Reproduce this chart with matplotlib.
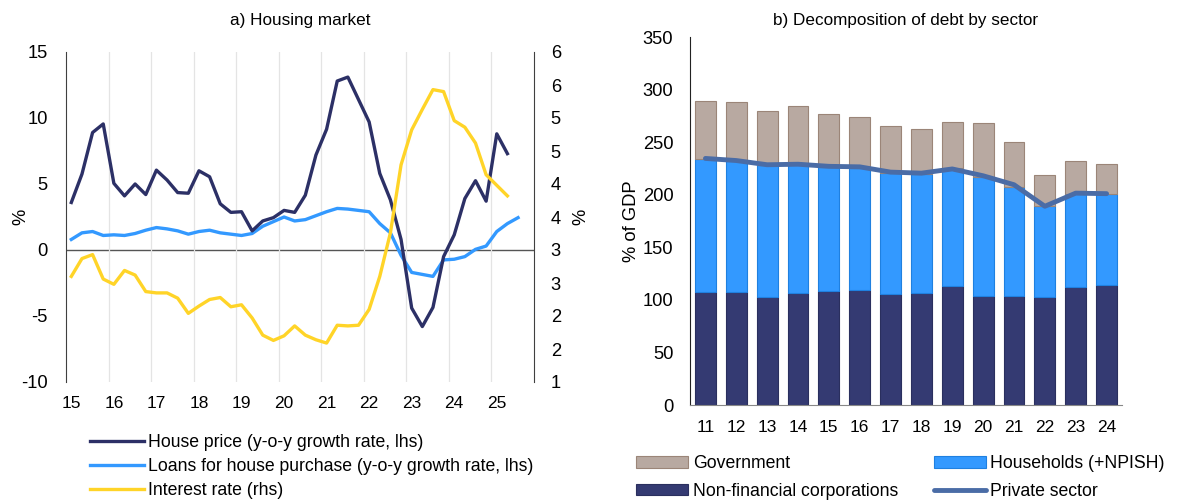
import matplotlib
matplotlib.use("Agg")
import matplotlib.pyplot as plt
import numpy as np
import pandas as pd

plt.rcParams['font.family'] = ['Liberation Sans', 'DejaVu Sans']
plt.rcParams['axes.unicode_minus'] = False

##############################
# a) Housing market data     #
##############################

# quarterly, starting 2015Q1
house_price = [3.6, 5.75, 8.9, 9.55, 5.05, 4.1, 5.0, 4.2, 6.05, 5.3,
               4.35, 4.3, 6.0, 5.55, 3.5, 2.85, 2.9, 1.45, 2.2, 2.45,
               3.0, 2.85, 4.15, 7.2, 9.15, 12.8, 13.1, 11.4, 9.7, 5.8,
               3.8, 0.8, -4.4, -5.8, -4.35, -0.5, 1.15, 3.9, 5.25, 3.7,
               8.8, 7.3]
loans = [0.8, 1.3, 1.4, 1.1, 1.15, 1.1, 1.25, 1.5, 1.7, 1.6,
         1.45, 1.2, 1.4, 1.5, 1.3, 1.2, 1.1, 1.25, 1.8, 2.15,
         2.5, 2.2, 2.3, 2.6, 2.9, 3.15, 3.1, 3.0, 2.9, 2.0,
         1.3, -0.4, -1.7, -1.85, -2.0, -0.75, -0.7, -0.5, 0.05, 0.3,
         1.4, 2.0, 2.45]
interest_rate = [2.6, 2.87, 2.93, 2.56, 2.48, 2.69, 2.62, 2.37, 2.35, 2.35,
                 2.27, 2.04, 2.15, 2.25, 2.28, 2.14, 2.17, 1.97, 1.71, 1.63,
                 1.7, 1.85, 1.71, 1.64, 1.59, 1.86, 1.85, 1.86, 2.1, 2.6,
                 3.26, 4.29, 4.82, 5.13, 5.43, 5.4, 4.96, 4.86, 4.62, 4.14,
                 3.98, 3.82]

year_labels_a = ['15', '16', '17', '18', '19', '20', '21', '22', '23', '24', '25']
lhs_ticks = [-10, -5, 0, 5, 10, 15]
rhs_ticks = [1, 1.5, 2, 2.5, 3, 3.5, 4, 4.5, 5, 5.5, 6]
rhs_labels = ['1', '2', '2', '3', '3', '4', '4', '5', '5', '6', '6']

def quarter_pos(n):
    q = pd.period_range('2015Q1', periods=n, freq='Q')
    return np.array([p.year + (p.quarter - 1) / 4 + 0.125 for p in q])

##############################
# b) Debt by sector data     #
##############################

years_b = ['11', '12', '13', '14', '15', '16', '17', '18', '19', '20', '21', '22', '23', '24']
nfc = [107.7, 107.7, 103.0, 106.2, 108.7, 109.3, 105.8, 106.2, 113.4, 103.9, 104.0, 103.0, 111.9, 114.0]
hh_total = [233.8, 232.9, 228.0, 229.0, 226.5, 225.6, 220.2, 219.3, 225.0, 217.0, 207.5, 189.2, 200.6, 200.3]
gov_total = [289.3, 288.0, 279.5, 284.2, 276.8, 274.0, 265.2, 262.4, 269.0, 267.8, 250.3, 219.0, 232.3, 229.4]
private_sector = [234.5, 232.5, 228.5, 229.0, 227.0, 226.5, 221.5, 220.5, 224.5, 218.0, 209.5, 189.0, 201.5, 201.0]

households = [t - n for t, n in zip(hh_total, nfc)]
government = [g - t for g, t in zip(gov_total, hh_total)]

navy = '#2c3066'
nfc_col = '#343a72'
light_blue = '#3399ff'
yellow = '#ffd428'
gov_col = '#b8a9a1'
priv_col = '#4a6ca6'
spine_col = '#404040'

FS_YT = 13.2
FS_XT = 12.5
FS_LEG = 12.7
FS_TITLE = 12.3

fig = plt.figure(figsize=(12.01, 5.04), dpi=100)

### Housing market
ax = fig.add_axes([66 / 1201, 1 - 382 / 504, 468 / 1201, 330 / 504])
ax2 = ax.twinx()

x_hp = quarter_pos(len(house_price))
x_ln = quarter_pos(len(loans))
x_ir = quarter_pos(len(interest_rate))

ax.axhline(0, color='#555555', lw=1.0, zorder=1)
ax.plot(x_ln, loans, color=light_blue, lw=2.4, zorder=3, label='Loans for house purchase (y-o-y growth rate, lhs)')
ax.plot(x_hp, house_price, color=navy, lw=2.4, zorder=4, label='House price (y-o-y growth rate, lhs)')
ax2.plot(x_ir, interest_rate, color=yellow, lw=2.4, label='Interest rate (rhs)')

ax.set_xlim(2015, 2026)
ax.set_ylim(-10, 15)
ax2.set_ylim(1, 6)

ax.set_xticks([2015 + i + 0.125 for i in range(len(year_labels_a))])
ax.set_xticklabels(year_labels_a)
ax.set_xticks(list(range(2016, 2026)), minor=True)
ax.grid(axis='x', which='minor', color='#e4e4e4', lw=0.9)
ax.tick_params(axis='x', which='both', length=0, pad=10, labelsize=FS_XT)
ax.set_yticks(lhs_ticks)
ax.set_yticklabels([str(v) for v in lhs_ticks])
ax.tick_params(axis='y', length=0, pad=13, labelsize=FS_YT)
ax2.set_yticks(rhs_ticks)
ax2.set_yticklabels(rhs_labels)
ax2.tick_params(axis='y', length=0, pad=12, labelsize=FS_YT)

for a in (ax, ax2):
    a.spines['top'].set_visible(False)
    a.spines['bottom'].set_visible(False)
    a.spines['left'].set_color(spine_col)
    a.spines['right'].set_color(spine_col)
ax.spines['right'].set_visible(False)
ax2.spines['left'].set_visible(False)

ax.set_ylabel('%', fontsize=FS_YT)
ax.yaxis.set_label_coords(-0.079, 0.5)
ax2.set_ylabel('%', fontsize=FS_YT)
ax2.yaxis.set_label_coords(1.081, 0.5)
fig.text(300 / 1201, 1 - 20 / 504, 'a) Housing market', fontsize=FS_TITLE, ha='center', va='center')

h1, l1 = ax.get_legend_handles_labels()
h2, l2 = ax2.get_legend_handles_labels()
handles = [h1[1], h1[0], h2[0]]
labels = [l1[1], l1[0], l2[0]]
fig.legend(handles, labels, loc='upper left', bbox_to_anchor=(90 / 1201, 1 - 434 / 504),
           frameon=False, fontsize=FS_LEG, handlelength=3.07, handletextpad=0.2,
           labelspacing=0.4, borderaxespad=0, borderpad=0)

### Debt decomposition
bx = fig.add_axes([690 / 1201, 1 - 405 / 504, 432 / 1201, 368 / 504])
xb = np.arange(len(years_b))
w = 0.68
bx.bar(xb, nfc, w, color=nfc_col, edgecolor='#2a2f5e', lw=0.8, label='Non-financial corporations')
bx.bar(xb, households, w, bottom=nfc, color=light_blue, edgecolor='#1f80e0', lw=0.8, label='Households (+NPISH)')
bx.bar(xb, government, w, bottom=hh_total, color=gov_col, edgecolor='#9b8578', lw=0.8, label='Government')
bx.plot(xb, private_sector, color=priv_col, lw=3.5, solid_capstyle='round', label='Private sector')

bx.set_xlim(-0.5, len(years_b) - 0.5)
bx.set_ylim(0, 350)
bx.set_yticks(range(0, 351, 50))
bx.set_xticks(xb)
bx.set_xticklabels(years_b)
bx.tick_params(axis='x', length=0, pad=11, labelsize=FS_XT)
bx.tick_params(axis='y', length=0, pad=12, labelsize=FS_YT)
bx.spines['top'].set_visible(False)
bx.spines['right'].set_visible(False)
bx.spines['left'].set_color('#222222')
bx.spines['bottom'].set_color('#888888')
bx.set_ylabel('% of GDP', fontsize=FS_YT)
bx.yaxis.set_label_coords(-0.115, 0.5)
fig.text(906 / 1201, 1 - 20 / 504, 'b) Decomposition of debt by sector', fontsize=FS_TITLE,
         ha='center', va='center')

hb, lb = bx.get_legend_handles_labels()
order = ['Government', 'Non-financial corporations', 'Households (+NPISH)', 'Private sector']
hmap = dict(zip(lb, hb))
fig.legend([hmap[k] for k in order], order, loc='upper left', ncol=2,
           bbox_to_anchor=(636 / 1201, 1 - 455 / 504), frameon=False, fontsize=FS_LEG,
           handlelength=2.95, handleheight=0.63, handletextpad=0.28, labelspacing=0.6,
           columnspacing=2.0, borderaxespad=0, borderpad=0)

fig.savefig('out.png', dpi=100)
